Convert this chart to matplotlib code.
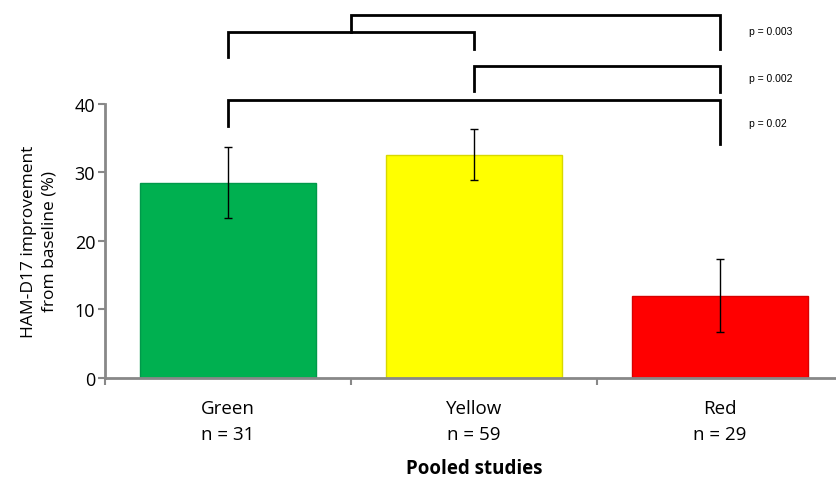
import matplotlib.pyplot as plt

groups = ['Green', 'Yellow', 'Red']
n_sizes = [31, 59, 29]
improvement = [28.5, 32.5, 12.0]
err_low = [5.1, 3.6, 5.3]
err_high = [5.2, 3.8, 5.4]
bar_colors = ['#00B050', '#FFFF00', '#FF0000']
edge_colors = ['#00994a', '#d8d800', '#d80000']

p_labels = ['p = 0.003', 'p = 0.002', 'p = 0.02']
p_label_y = [50.6, 43.8, 37.2]

plt.rcParams['font.family'] = ['Open Sans', 'DejaVu Sans']

fig = plt.figure(figsize=(8.37, 4.81), dpi=100)
ax = fig.add_axes([0.1254, 0.2121, 0.8817, 0.5696])

x = list(range(len(groups)))
ax.bar(x, improvement, width=0.715, color=bar_colors, edgecolor=edge_colors, linewidth=1, zorder=2)
ax.errorbar(x, improvement, yerr=[err_low, err_high], fmt='none', ecolor='black',
            elinewidth=1, capsize=3, capthick=1, zorder=3)

ax.set_xlim(-0.5, 2.5)
ax.set_ylim(0, 40)
ax.set_yticks([0, 10, 20, 30, 40])
ax.set_xticks(x)
ax.set_xticklabels(['%s\nn = %d' % (g, n) for g, n in zip(groups, n_sizes)], fontsize=13.5, linespacing=1.6)
ax.set_xticks([-0.5, 0.5, 1.5], minor=True)
ax.tick_params(axis='x', which='major', length=0, pad=15)
ax.tick_params(axis='x', which='minor', length=5, width=1.5, color='#888888', direction='out')
ax.tick_params(axis='y', length=5, width=1.5, color='#888888', labelsize=13, pad=2)

for s in ['top', 'right']:
    ax.spines[s].set_visible(False)
for s in ['left', 'bottom']:
    ax.spines[s].set_color('#888888')
    ax.spines[s].set_linewidth(2)

ax.set_ylabel('HAM-D17 improvement\nfrom baseline (%)', fontsize=12.5, labelpad=12, linespacing=1.4)
ax.set_xlabel('Pooled studies', fontsize=13.5, fontweight='bold', labelpad=11)

kw = dict(color='black', lw=2, clip_on=False, solid_joinstyle='miter')
# p = 0.02 : Green vs Red
ax.plot([0, 0, 2, 2], [36.8, 40.6, 40.6, 34.2], **kw)
# p = 0.002 : Yellow vs Red
ax.plot([1, 1, 2, 2], [41.9, 45.5, 45.5, 41.8], **kw)
# p = 0.003 : Green+Yellow vs Red
ax.plot([0, 0, 1, 1], [46.9, 50.5, 50.5, 48.0], **kw)
ax.plot([0.5, 0.5, 2, 2], [50.5, 53.0, 53.0, 48.0], **kw)

for lab, yy in zip(p_labels, p_label_y):
    ax.text(2.12, yy, lab, fontsize=7.5, family=['Liberation Sans', 'DejaVu Sans'],
            va='center', ha='left', clip_on=False)

fig.savefig('out.png', dpi=100)
